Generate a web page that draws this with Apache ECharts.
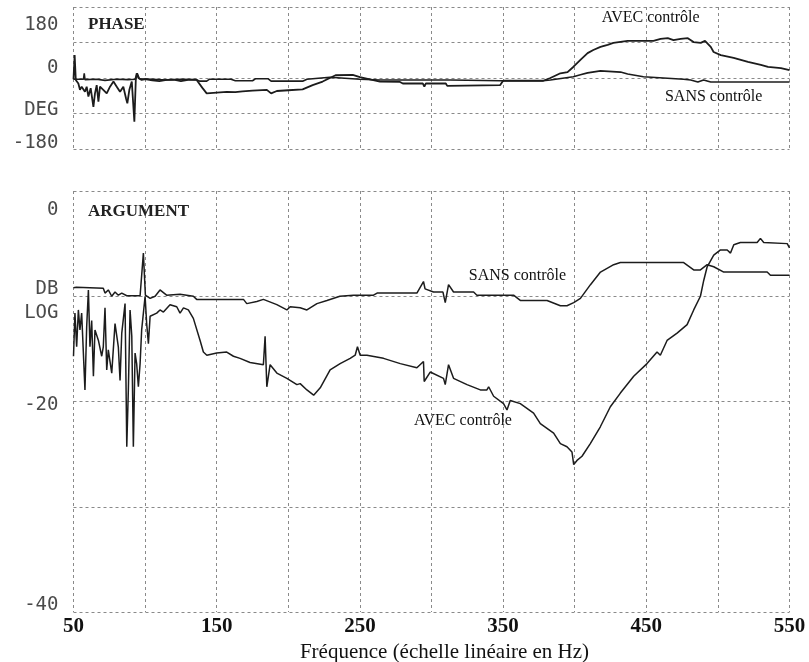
<!DOCTYPE html>
<html>
<head>
<meta charset="utf-8">
<script src="https://cdn.jsdelivr.net/npm/echarts@6/dist/echarts.min.js"></script>
<style>
html,body{margin:0;padding:0;background:#fff;}
#chart{width:809px;height:662px;}
</style>
</head>
<body>
<div id="chart"></div>
<script>
// ---- data (frequency in Hz, phase in degrees / argument in dB) ----
var phaseAvec = [[50,-3],[50.8,58],[51.6,-5],[53.4,-14],[54.5,-30],[55.7,-22],[58,-35],[59.2,-22],[60.4,-47],[62,-26],[63.9,-73],[65,-39],[66.2,-18],[67.4,-60],[68.5,-22],[70.8,-30],[73.2,-39],[75.5,-22],[77.9,-9],[80.2,-22],[82.5,-35],[84.8,-22],[86.7,-52],[87.6,-64],[89,-30],[90.7,-9],[92.5,-111],[93.5,-5],[94.1,12],[95.3,0],[97.6,-5],[100,-3],[105,-6],[110,-8],[115,-5],[120,-4],[125,-8],[130,-5],[136,-5],[140,-25],[143,-39],[150,-37],[157,-35],[163,-36],[168,-34],[175,-32],[185,-30],[188,-39],[192,-33],[200,-31],[210,-29],[217,-18],[224,-9],[229,0],[233,7],[245,8],[250,2],[264,-9],[278,-10],[280,-14],[294,-14],[295,-22],[296,-14],[310,-14],[311,-20],[312,-18],[348,-18],[350,-7],[378,-7],[383,0],[390,12],[395,15],[399,28],[404,46],[409,63],[413,71],[418,79],[423,84],[427,89],[437,94],[455,94],[460,99],[465,101],[469,96],[474,99],[479,101],[483,91],[488,89],[491,94],[495,79],[497,66],[502,58],[511,51],[521,41],[530,33],[535,28],[544,25],[550,20]];

var phaseSans = [[50,-3],[57,-3],[57.5,12],[58,-4],[66,-3],[72,-6],[80,-3],[88,-4],[93,-3],[94.5,12],[96,-2],[105,-3],[115,-5],[125,-3],[136,-4],[138,-8],[143,-8],[145,-3],[160,-3],[163,-7],[175,-7],[177,-2],[186,-2],[188,-8],[210,-8],[213,-3],[229,2],[250,-3],[264,-5],[294,-5],[295,0],[296,-5],[311,-5],[312,0],[313,-5],[348,-7],[378,-7],[383,-5],[399,3],[404,8],[409,13],[418,18],[432,15],[437,10],[448,3],[476,-3],[481,-5],[486,-10],[490,-5],[495,-10],[550,-10]];

var dbSans = [[50,-9.2],[52,-9.15],[70.8,-9.25],[72,-9.7],[74.3,-9.4],[76.7,-10],[79,-9.6],[81.3,-9.9],[83.7,-9.7],[87.2,-9.95],[96.5,-9.95],[98.8,-5.9],[100.2,-9.9],[103.5,-10.2],[107,-10],[110.4,-9.4],[115,-9.9],[124.4,-9.8],[133.7,-10],[136,-10.3],[168.7,-10.3],[171,-10.7],[178,-10.5],[182.6,-10.3],[192,-10.8],[199,-11.3],[201.3,-11],[208.3,-11.1],[213,-11.3],[220,-10.7],[227,-10.4],[236,-10],[245.5,-9.9],[259.5,-9.9],[262,-9.7],[289.8,-9.7],[294.4,-8.6],[295.5,-9.3],[301.4,-9.6],[308,-9.6],[309.6,-10.6],[311.9,-8.9],[315.4,-9.6],[329.4,-9.6],[331.7,-9.9],[357.3,-9.9],[362,-10.4],[380.7,-10.4],[390,-10.9],[394.6,-10.9],[399.3,-10.6],[404,-10.2],[411,-8.9],[418,-7.7],[427.2,-7],[431.9,-6.8],[476.1,-6.8],[483.1,-7.5],[487.8,-7.5],[492.5,-7],[497.1,-7.2],[504.1,-7.7],[534.4,-7.7],[536.7,-8],[550,-8]];

var dbAvec = [[50,-15.7],[51,-11.6],[52.2,-14.8],[53.4,-11.3],[54.5,-13.2],[55.7,-11.6],[58,-18.9],[59.2,-12.9],[60.4,-9.4],[61.5,-14.8],[62.7,-12.3],[63.9,-17.6],[65,-13.2],[67.4,-14.2],[69.7,-15.7],[70.8,-14.8],[72,-11.1],[73.2,-17],[74.3,-15.1],[76.7,-17.3],[79,-12.6],[81.3,-14.8],[82.5,-18],[83.7,-13.5],[86,-10.7],[87.2,-24.3],[88.3,-18.9],[89.5,-11.3],[90.7,-13.8],[91.8,-24.3],[93,-15.4],[94.1,-16.4],[95.3,-18.6],[96.5,-16.4],[97.6,-13.2],[100,-10],[101.1,-12.6],[102.3,-14.5],[103.5,-11.9],[108.1,-11.6],[110.4,-11.3],[112.8,-11.5],[117.4,-10.8],[122.1,-11],[124.4,-11.6],[126.8,-11.1],[130.2,-11.3],[133.7,-12.1],[138.4,-14.2],[140.7,-15.3],[143.1,-15.6],[150,-15.4],[157,-15.3],[161.7,-15.7],[166.3,-15.9],[173.3,-16.3],[182.6,-16.5],[183.8,-13.8],[185,-18.6],[187.3,-16.5],[192,-17.3],[199,-17.8],[206,-18.4],[208.3,-18.3],[213,-18.9],[217.7,-19.4],[222.3,-18.7],[229.2,-17],[236.2,-16.4],[243.2,-15.9],[246.7,-15.6],[248.3,-14.8],[250.2,-15.6],[254.9,-15.6],[266.5,-15.9],[278.2,-16.4],[289.8,-16.8],[294.4,-16.2],[294.9,-18.1],[299.1,-17.2],[308.4,-17.8],[309.6,-18.4],[311.9,-16.5],[315.4,-17.8],[324.8,-18.4],[334.1,-18.9],[338.7,-18.9],[339.9,-18.6],[343.4,-19.5],[350.3,-20.2],[352.7,-20.8],[355,-19.9],[362,-20.2],[371.3,-21.1],[376,-22.1],[385.3,-23],[390,-24],[394.6,-24.3],[398.1,-24.8],[399.3,-26],[401.6,-25.6],[405.1,-25.2],[410.9,-24],[417.9,-22.4],[424.9,-20.5],[431.9,-19.2],[441.2,-17.6],[450.5,-16.4],[457.5,-15.3],[459.8,-15.6],[464.5,-14.2],[471.5,-13.5],[478.5,-12.7],[483.1,-11.3],[487.8,-10],[490.1,-8.5],[492.5,-7.2],[497.1,-6.1],[501.8,-5.6],[506.5,-5.6],[508.8,-5.9],[511.1,-5.1],[515.7,-4.9],[527.4,-4.9],[529.7,-4.5],[532,-4.9],[548.4,-5],[550,-5.4]];

// tick labels
var freqTickLabels = ['50','150','250','350','450','550'];
var phaseTickLabels = {'180':'{a|180}', '0':'{b|0}', '-90':'{c|DEG}', '-180':'{d|-180}'};
var dbTickLabels = {'0':'{a|0}', '-10':'{b|DB\nLOG}', '-20':'{c|-20}', '-40':'{d|-40}'};

// annotation texts with their positions in data units
var phaseNotes = [['AVEC contrôle', 453, 152], ['SANS contrôle', 497, -48]];
var dbNotes = [['SANS contrôle', 360, -8.1], ['AVEC contrôle', 322, -21.8]];

var plotterFont = 'DejaVu Sans Mono';
var serif = 'Liberation Serif';
var labelBase = {fontFamily: plotterFont, fontSize: 19, color: '#4a4a4a'};
function richOf(shifts){
  var r = {};
  Object.keys(shifts).forEach(function(k){
    var s = shifts[k];
    r[k] = Object.assign({}, labelBase, {padding: s >= 0 ? [2*s,0,0,0] : [0,0,-2*s,0], lineHeight: 24});
  });
  return r;
}

var gridLine = {show: true, lineStyle: {color: '#8a8a8a', width: 1, type: [3, 3]}};

function noteMark(notes){
  return {
    symbol: 'circle', symbolSize: 0, silent: true,
    label: {show: true, position: 'inside', formatter: '{b}', fontFamily: serif, fontSize: 16, color: '#111'},
    data: notes.map(function(n){ return {name: n[0], coord: [n[1], n[2]]}; })
  };
}

var chart = echarts.init(document.getElementById('chart'), null, {renderer: 'canvas'});
chart.setOption({
  animation: false,
  backgroundColor: '#fff',
  title: [
    {text: 'PHASE', left: 88, top: 16, padding: 0, textStyle: {fontFamily: serif, fontWeight: 'bold', fontSize: 17, color: '#222'}},
    {text: 'ARGUMENT', left: 88, top: 203, padding: 0, textStyle: {fontFamily: serif, fontWeight: 'bold', fontSize: 17, color: '#222'}}
  ],
  grid: [
    {left: 73.5, right: 19.5, top: 7, height: 142, containLabel: false, outerBoundsMode: 'none'},
    {left: 73.5, right: 19.5, top: 191, height: 421, containLabel: false, outerBoundsMode: 'none'}
  ],
  xAxis: [
    {gridIndex: 0, type: 'value', min: 50, max: 550, interval: 50,
     axisLine: {show: false}, axisTick: {show: false}, axisLabel: {show: false}, splitLine: gridLine},
    {gridIndex: 1, type: 'value', min: 50, max: 550, interval: 50,
     axisLine: {show: false}, axisTick: {show: false}, splitLine: gridLine,
     axisLabel: {margin: 4, fontFamily: serif, fontWeight: 'bold', fontSize: 21, color: '#111',
       formatter: function(v){ var s = String(v); return freqTickLabels.indexOf(s) >= 0 ? s : ''; }},
     name: 'Fréquence (échelle linéaire en Hz)', nameLocation: 'middle', nameGap: 17,
     nameTextStyle: {fontFamily: serif, fontSize: 21, color: '#111', padding: [0,0,0,26]}}
  ],
  yAxis: [
    {gridIndex: 0, type: 'value', min: -180, max: 180, interval: 90,
     axisLine: {show: false}, axisTick: {show: false}, splitLine: gridLine,
     axisLabel: {margin: 15, formatter: function(v){ return phaseTickLabels[String(v)] || ''; },
       rich: richOf({a: 18, b: -10, c: -3, d: -6})}},
    {gridIndex: 1, type: 'value', min: -40, max: 0, interval: 10,
     axisLine: {show: false}, axisTick: {show: false}, splitLine: gridLine,
     axisLabel: {margin: 15, formatter: function(v){ return dbTickLabels[String(v)] || ''; },
       rich: richOf({a: 19, b: 5, c: 4, d: -7})}}
  ],
  series: [
    {name: 'SANS contrôle (phase)', type: 'line', xAxisIndex: 0, yAxisIndex: 0, data: phaseSans,
     showSymbol: false, lineStyle: {color: '#1c1c1c', width: 1.6}},
    {name: 'AVEC contrôle (phase)', type: 'line', xAxisIndex: 0, yAxisIndex: 0, data: phaseAvec,
     showSymbol: false, lineStyle: {color: '#1c1c1c', width: 1.8}, markPoint: noteMark(phaseNotes)},
    {name: 'SANS contrôle (argument)', type: 'line', xAxisIndex: 1, yAxisIndex: 1, data: dbSans,
     showSymbol: false, lineStyle: {color: '#1c1c1c', width: 1.5}},
    {name: 'AVEC contrôle (argument)', type: 'line', xAxisIndex: 1, yAxisIndex: 1, data: dbAvec,
     showSymbol: false, lineStyle: {color: '#1c1c1c', width: 1.5}, markPoint: noteMark(dbNotes)}
  ]
});
</script>
</body>
</html>
